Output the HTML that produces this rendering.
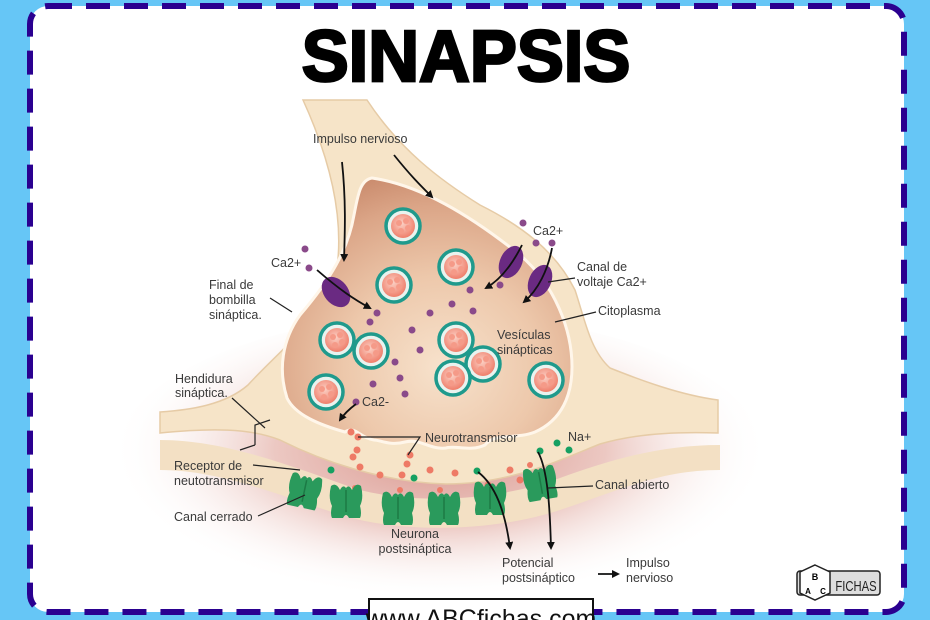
<!DOCTYPE html>
<html><head><meta charset="utf-8"><style>
html,body{margin:0;padding:0;background:#66c6f6;}
svg{display:block;}
text{font-family:"Liberation Sans",sans-serif;}
.l{font-size:12.5px;fill:#3a3a3a;}
</style></head><body>
<svg width="930" height="620" viewBox="0 0 930 620" xmlns="http://www.w3.org/2000/svg">
<defs>
<radialGradient id="pink" cx="0.5" cy="0.45" r="0.5">
<stop offset="0" stop-color="#d9968e"/><stop offset="0.5" stop-color="#ecc8c2"/><stop offset="1" stop-color="#ffffff" stop-opacity="0"/>
</radialGradient>
<radialGradient id="cyto" cx="0.55" cy="0.7" r="0.75">
<stop offset="0" stop-color="#f7e2cc"/><stop offset="0.45" stop-color="#edc8ab"/><stop offset="0.8" stop-color="#dba587"/><stop offset="1" stop-color="#c98a6c"/>
</radialGradient>
<radialGradient id="ves" cx="0.45" cy="0.4" r="0.6">
<stop offset="0" stop-color="#fbd0c4"/><stop offset="1" stop-color="#ef7f6c"/>
</radialGradient>
<g id="v"><circle r="17" fill="#e9f3ef" stroke="#1f9a8c" stroke-width="3.5"/><circle r="12" fill="url(#ves)"/><circle cx="-4" cy="-3" r="3" fill="#f59a88"/><circle cx="3" cy="-5" r="3" fill="#f59a88"/><circle cx="5" cy="2" r="3" fill="#f59a88"/><circle cx="-2" cy="5" r="3" fill="#f59a88"/></g>
<g id="r"><path d="M-15,-12 Q-10,-16 -6,-8 Q-3,-14 0,-10 Q3,-14 6,-8 Q10,-16 15,-12 Q18,0 14,8 Q16,16 14,20 L3,20 Q0,14 -3,20 L-14,20 Q-16,16 -14,8 Q-18,0 -15,-12 Z" fill="#2a9a5c"/><path d="M0,-8 L0,14" stroke="#1c7a45" stroke-width="1.5"/></g>
<marker id="ah" markerWidth="8" markerHeight="8" refX="6" refY="4" orient="auto" markerUnits="userSpaceOnUse"><path d="M0,0 L8,4 L0,8 Z" fill="#111"/></marker>
</defs>
<rect x="30" y="6" width="874" height="606" rx="18" fill="#fff"/>
<rect x="30" y="6" width="874" height="606" rx="18" fill="none" stroke="#2a0090" stroke-width="6" stroke-dasharray="24 14"/>
<text x="466" y="90" text-anchor="middle" font-size="80" font-weight="900" stroke="#000" stroke-width="3" transform="translate(466,0) scale(0.88,0.9) translate(-466,0)" style="font-family:'Liberation Sans Narrow','Liberation Sans',sans-serif">SINAPSIS</text>

<!-- postsynaptic -->
<ellipse cx="440" cy="465" rx="330" ry="150" fill="url(#pink)"/>
<path d="M160 440 C230 440,300 470,360 490 C420 505,500 500,560 478 C610 460,660 445,720 445 L720 470 C660 470,620 490,560 510 C500 530,420 533,360 520 C300 505,230 470,160 470 Z" fill="#f3e0c4"/>
<!-- presynaptic -->
<path d="M303 100 C335 170,345 230,335 280 C320 320,275 355,248 385 C225 405,190 410,160 412 L160 433 C210 428,250 428,280 440 C320 460,380 482,446 484 C510 484,560 460,600 444 C640 432,690 432,718 433 L718 400 C680 395,640 380,610 368 C590 350,585 320,575 290 C555 250,520 225,480 205 C440 180,400 150,367 100 Z" fill="#f6e4c8" stroke="#e6cba6" stroke-width="1.5"/>
<path d="M372 178 C420 185,470 215,520 255 C555 285,572 330,572 367 C572 395,562 420,535 432 C515 440,495 432,485 445 C470 452,455 445,446 448 C430 450,420 438,405 442 C390 446,380 440,374 440 C360 438,355 425,345 432 C320 425,295 415,287 398 C278 370,282 340,300 315 C330 280,348 250,354 215 C358 195,360 180,372 178 Z" fill="url(#cyto)" stroke="#fff6ea" stroke-width="3"/>

<!-- vesicles -->
<use href="#v" x="403" y="226"/><use href="#v" x="456" y="267"/><use href="#v" x="394" y="285"/>
<use href="#v" x="337" y="340"/><use href="#v" x="371" y="351"/><use href="#v" x="456" y="340"/>
<use href="#v" x="483" y="364"/><use href="#v" x="453" y="378"/><use href="#v" x="546" y="380"/><use href="#v" x="326" y="392"/>

<!-- purple Ca dots -->
<g fill="#8a4a8a">
<circle cx="305" cy="249" r="3.5"/><circle cx="309" cy="268" r="3.5"/><circle cx="523" cy="223" r="3.5"/><circle cx="536" cy="243" r="3.5"/><circle cx="552" cy="243" r="3.5"/>
<circle cx="377" cy="313" r="3.5"/><circle cx="370" cy="322" r="3.5"/><circle cx="430" cy="313" r="3.5"/><circle cx="452" cy="304" r="3.5"/><circle cx="473" cy="311" r="3.5"/><circle cx="470" cy="290" r="3.5"/><circle cx="500" cy="285" r="3.5"/>
<circle cx="412" cy="330" r="3.5"/><circle cx="420" cy="350" r="3.5"/><circle cx="395" cy="362" r="3.5"/><circle cx="400" cy="378" r="3.5"/><circle cx="373" cy="384" r="3.5"/><circle cx="405" cy="394" r="3.5"/><circle cx="356" cy="402" r="3.5"/>
</g>
<!-- channels -->
<ellipse cx="336" cy="292" rx="12" ry="17" transform="rotate(-40 336 292)" fill="#6a2a82"/>
<ellipse cx="511" cy="262" rx="11" ry="17" transform="rotate(25 511 262)" fill="#6a2a82"/>
<ellipse cx="540" cy="281" rx="11" ry="17" transform="rotate(25 540 281)" fill="#6a2a82"/>
<!-- red nt dots -->
<g fill="#ee7a66">
<circle cx="351" cy="432" r="3.5"/><circle cx="358" cy="437" r="3.5"/><circle cx="357" cy="450" r="3.5"/><circle cx="353" cy="457" r="3.5"/><circle cx="360" cy="467" r="3.5"/>
<circle cx="410" cy="455" r="3.5"/><circle cx="407" cy="464" r="3.5"/><circle cx="402" cy="475" r="3.5"/><circle cx="430" cy="470" r="3.5"/><circle cx="380" cy="475" r="3.5"/><circle cx="455" cy="473" r="3.5"/><circle cx="488" cy="485" r="3.5"/><circle cx="510" cy="470" r="3.5"/><circle cx="520" cy="480" r="3.5"/><circle cx="308" cy="482" r="3"/><circle cx="355" cy="488" r="3"/><circle cx="400" cy="490" r="3"/><circle cx="440" cy="490" r="3"/><circle cx="530" cy="465" r="3"/>
</g>
<g fill="#16a062"><circle cx="331" cy="470" r="3.5"/><circle cx="414" cy="478" r="3.5"/><circle cx="477" cy="471" r="3.5"/><circle cx="540" cy="451" r="3.5"/><circle cx="557" cy="443" r="3.5"/><circle cx="569" cy="450" r="3.5"/></g>
<!-- receptors -->
<use href="#r" x="305" y="488" transform="rotate(12 305 488)"/><use href="#r" x="346" y="498"/><use href="#r" x="398" y="505"/><use href="#r" x="444" y="505"/><use href="#r" x="490" y="495"/><use href="#r" x="540" y="480" transform="rotate(-10 540 480)"/>

<!-- arrows -->
<g stroke="#111" stroke-width="1.8" fill="none">
<path d="M342 162 C346 200,345 230,344 260" marker-end="url(#ah)"/>
<path d="M394 155 C410 175,420 185,432 197" marker-end="url(#ah)"/>
<path d="M317 270 C340 290,355 300,370 308" marker-end="url(#ah)"/>
<path d="M522 245 C512 265,500 280,486 288" marker-end="url(#ah)"/>
<path d="M552 248 C548 270,538 290,524 302" marker-end="url(#ah)"/>
<path d="M356 404 C348 410,344 414,340 420" marker-end="url(#ah)"/>
<path d="M478 472 C495 485,505 510,510 548" marker-end="url(#ah)"/>
<path d="M538 452 C548 470,550 510,551 548" marker-end="url(#ah)"/>
<path d="M598 574 L618 574" marker-end="url(#ah)"/>
</g>
<g stroke="#222" stroke-width="1.2" fill="none">
<path d="M270 298 L292 312"/><path d="M548 282 L575 278"/><path d="M555 322 L596 312"/>
<path d="M232 398 L265 428 M255 445 L255 425 L270 420 M255 445 L240 450"/>
<path d="M358 437 L420 437 L408 455"/>
<path d="M253 465 L300 470"/><path d="M258 516 L305 495"/><path d="M548 488 L593 486"/>
</g>

<!-- labels -->
<text class="l" x="313" y="143">Impulso nervioso</text>
<text class="l" x="271" y="267">Ca2+</text>
<text class="l" x="209" y="289">Final de</text><text class="l" x="209" y="304">bombilla</text><text class="l" x="209" y="319">sináptica.</text>
<text class="l" x="533" y="235">Ca2+</text>
<text class="l" x="577" y="271">Canal de</text><text class="l" x="577" y="286">voltaje Ca2+</text>
<text class="l" x="598" y="315">Citoplasma</text>
<text class="l" x="497" y="339">Vesículas</text><text class="l" x="497" y="354">sinápticas</text>
<text class="l" x="175" y="383">Hendidura</text><text class="l" x="175" y="397">sináptica.</text>
<text class="l" x="362" y="406">Ca2-</text>
<text class="l" x="425" y="442">Neurotransmisor</text>
<text class="l" x="568" y="441">Na+</text>
<text class="l" x="174" y="470">Receptor de</text><text class="l" x="174" y="485">neutotransmisor</text>
<text class="l" x="595" y="489">Canal abierto</text>
<text class="l" x="174" y="521">Canal cerrado</text>
<text class="l" x="415" y="538" text-anchor="middle">Neurona</text><text class="l" x="415" y="553" text-anchor="middle">postsináptica</text>
<text class="l" x="502" y="567">Potencial</text><text class="l" x="502" y="582">postsináptico</text>
<text class="l" x="626" y="567">Impulso</text><text class="l" x="626" y="582">nervioso</text>

<!-- logo -->
<rect x="797" y="571" width="83" height="24" rx="3" fill="#ddd" stroke="#222" stroke-width="1.5"/>
<path d="M815 565 L830 572 L830 593 L815 600 L800 593 L800 572 Z" fill="#fff" stroke="#222" stroke-width="1.5"/>
<text x="815" y="580" font-size="9" font-weight="bold" text-anchor="middle">B</text>
<text x="808" y="594" font-size="8" font-weight="bold" text-anchor="middle">A</text>
<text x="823" y="594" font-size="8" font-weight="bold" text-anchor="middle">C</text>
<text x="856" y="591" font-size="15" text-anchor="middle" fill="#222" transform="translate(856,0) scale(0.75,1) translate(-856,0)" style="font-family:'Liberation Sans Narrow','Liberation Sans',sans-serif">FICHAS</text>

<!-- url box -->
<rect x="369" y="599" width="224" height="30" fill="#fff" stroke="#111" stroke-width="2"/>
<text x="481" y="627" font-size="25" text-anchor="middle" fill="#111">www.ABCfichas.com</text>
</svg>
</body></html>
